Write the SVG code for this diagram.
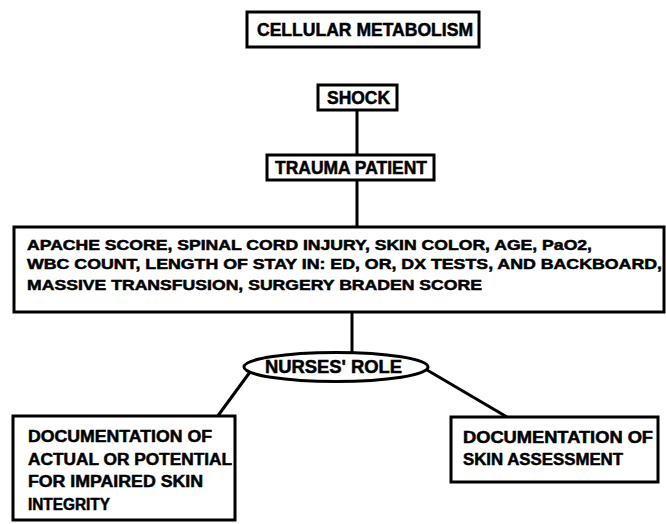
<svg xmlns="http://www.w3.org/2000/svg" width="666" height="524" viewBox="0 0 666 524">
<style>
.box{fill:#fff;stroke:#000;stroke-width:3}
.t{font-family:"Liberation Sans",Arial,sans-serif;font-weight:bold;fill:#000;stroke:#000;stroke-width:0.5}
.big{font-size:18px}
.mid{font-size:15px}
.sm{font-size:16px}
.ln{stroke:#000;stroke-width:3;fill:none}
</style>
<rect width="666" height="524" fill="#fff"/>
<g id="connectors">
<line class="ln" x1="357" y1="110" x2="357" y2="155"/>
<line class="ln" x1="357" y1="180" x2="357" y2="227"/>
<line class="ln" x1="352" y1="312" x2="352" y2="353"/>
<line class="ln" x1="250" y1="372" x2="217" y2="417"/>
<line class="ln" x1="427" y1="370" x2="507" y2="417"/>
</g>
<g id="cellular">
<rect class="box" x="247" y="12" width="232" height="35"/>
<text class="t big" x="257" y="36" textLength="216" lengthAdjust="spacingAndGlyphs">CELLULAR METABOLISM</text>
</g>
<g id="shock">
<rect class="box" x="318" y="85" width="79" height="25"/>
<text class="t big" x="327" y="104" textLength="63" lengthAdjust="spacingAndGlyphs">SHOCK</text>
</g>
<g id="trauma">
<rect class="box" x="267" y="155" width="167" height="25"/>
<text class="t big" x="275" y="174" textLength="152" lengthAdjust="spacingAndGlyphs">TRAUMA PATIENT</text>
</g>
<g id="factors">
<rect class="box" x="14" y="227" width="650" height="85"/>
<text class="t mid" x="27" y="250" textLength="565" lengthAdjust="spacingAndGlyphs">APACHE SCORE, SPINAL CORD INJURY, SKIN COLOR, AGE, PaO2,</text>
<text class="t mid" x="27" y="269" textLength="635" lengthAdjust="spacingAndGlyphs">WBC COUNT, LENGTH OF STAY IN: ED, OR, DX TESTS, AND BACKBOARD,</text>
<text class="t mid" x="27" y="290" textLength="455" lengthAdjust="spacingAndGlyphs">MASSIVE TRANSFUSION, SURGERY BRADEN SCORE</text>
</g>
<g id="nurses">
<ellipse class="box" cx="336" cy="367" rx="92" ry="14.5"/>
<text class="t big" x="265" y="373" textLength="137" lengthAdjust="spacingAndGlyphs">NURSES' ROLE</text>
</g>
<g id="doc-actual">
<rect class="box" x="13" y="416" width="222" height="104"/>
<text class="t sm" x="28" y="442" textLength="184" lengthAdjust="spacingAndGlyphs">DOCUMENTATION OF</text>
<text class="t sm" x="28" y="465" textLength="204" lengthAdjust="spacingAndGlyphs">ACTUAL OR POTENTIAL</text>
<text class="t sm" x="28" y="487" textLength="175" lengthAdjust="spacingAndGlyphs">FOR IMPAIRED SKIN</text>
<text class="t sm" x="28" y="510" textLength="82" lengthAdjust="spacingAndGlyphs">INTEGRITY</text>
</g>
<g id="doc-skin">
<rect class="box" x="451" y="417" width="207" height="65"/>
<text class="t sm" x="463" y="443" textLength="190" lengthAdjust="spacingAndGlyphs">DOCUMENTATION OF</text>
<text class="t sm" x="463" y="465" textLength="160" lengthAdjust="spacingAndGlyphs">SKIN ASSESSMENT</text>
</g>
</svg>
